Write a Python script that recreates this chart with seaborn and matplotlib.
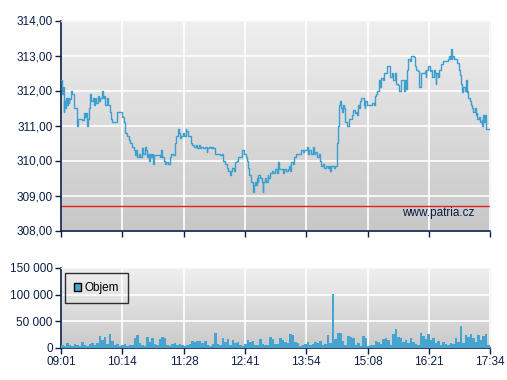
import numpy as np
import pandas as pd
import matplotlib
matplotlib.use("Agg")
import matplotlib.pyplot as plt
import seaborn as sns
from matplotlib.ticker import FuncFormatter, FixedLocator
from matplotlib.patches import Patch

# ---------------- data ----------------
tick_labels = ["09:01", "10:14", "11:28", "12:41", "13:54", "15:08", "16:21", "17:34"]

price_min = [0, 1, 2, 3, 4, 5, 6, 7, 8, 9, 10, 12, 13, 15, 17, 19, 20, 23, 25, 27, 29, 30, 31, 32, 34,
             35, 36, 38, 39, 41, 42, 44, 45, 47, 49, 50, 52, 53, 55, 56, 58, 60, 61, 65, 67, 71, 73, 75,
             77, 79, 81, 83, 85, 87, 88, 90, 91, 93, 95, 97, 98, 100, 101, 102, 103, 104, 105, 106, 108,
             109, 110, 111, 116, 118, 120, 121, 123, 124, 126, 128, 130, 132, 134, 136, 138, 140, 141,
             142, 144, 146, 147, 149, 150, 152, 154, 156, 157, 159, 161, 163, 165, 166, 168, 170, 172,
             174, 175, 177, 179, 180, 182, 184, 188, 190, 192, 194, 196, 198, 200, 202, 203, 205, 207,
             208, 210, 212, 214, 216, 217, 219, 221, 222, 224, 225, 227, 229, 230, 231, 232, 233, 234,
             235, 236, 238, 240, 241, 242, 244, 245, 247, 248, 250, 252, 254, 256, 258, 260, 261, 263,
             265, 267, 269, 271, 273, 274, 275, 277, 279, 281, 283, 285, 287, 289, 291, 293, 294, 295,
             297, 299, 301, 302, 304, 306, 308, 310, 311, 313, 315, 317, 319, 321, 322, 323, 325, 327,
             328, 330, 331, 332, 333, 334, 335, 336, 337, 338, 340, 342, 344, 346, 348, 349, 351, 353,
             354, 355, 356, 357, 359, 360, 362, 363, 364, 366, 368, 370, 372, 374, 376, 377, 378, 380,
             381, 383, 385, 386, 388, 390, 392, 393, 394, 396, 397, 399, 400, 401, 403, 404, 406, 408,
             410, 411, 413, 414, 415, 417, 418, 420, 422, 423, 425, 427, 428, 430, 431, 433, 435, 436,
             437, 439, 441, 443, 444, 446, 447, 448, 449, 451, 452, 453, 455, 457, 459, 461, 463, 464,
             465, 466, 467, 468, 470, 472, 474, 476, 477, 478, 479, 480, 481, 483, 484, 485, 486, 487,
             489, 490, 492, 493, 495, 496, 497, 498, 500, 501, 503, 504, 505, 506, 507, 508, 513]

price = [312.30, 311.90, 312.10, 311.40, 311.70, 311.50, 311.80, 311.60, 311.80, 311.65, 311.75, 312.00,
         311.90, 311.50, 311.50, 311.00, 311.20, 311.20, 311.15, 311.35, 311.25, 311.35, 311.00, 311.20,
         311.50, 311.90, 311.70, 311.80, 311.60, 311.80, 311.65, 311.85, 311.70, 311.80, 312.00, 311.80,
         311.85, 311.60, 311.80, 311.60, 311.40, 311.20, 311.10, 311.10, 311.40, 311.40, 311.25, 311.10,
         310.80, 310.70, 310.60, 310.50, 310.40, 310.30, 310.15, 310.30, 310.10, 310.20, 310.10, 310.35,
         310.20, 310.30, 310.40, 310.30, 310.10, 310.20, 310.00, 310.20, 310.10, 310.20, 309.90, 310.15,
         310.15, 310.10, 310.30, 310.10, 310.00, 309.90, 309.95, 309.90, 310.10, 310.20, 310.15, 310.50,
         310.70, 310.90, 310.80, 310.65, 310.70, 310.80, 310.70, 310.90, 310.85, 310.70, 310.70, 310.50,
         310.45, 310.40, 310.45, 310.35, 310.45, 310.35, 310.40, 310.35, 310.40, 310.25, 310.35, 310.40,
         310.35, 310.40, 310.35, 310.20, 310.20, 310.15, 310.20, 310.00, 309.90, 309.80, 309.70, 309.60,
         309.70, 309.80, 309.70, 309.95, 310.00, 310.10, 310.10, 310.20, 310.30, 310.20, 310.10, 310.00,
         309.80, 309.60, 309.40, 309.30, 309.10, 309.30, 309.40, 309.30, 309.50, 309.40, 309.60, 309.50,
         309.40, 309.10, 309.40, 309.50, 309.40, 309.60, 309.50, 309.65, 309.70, 309.65, 309.75, 309.65,
         309.95, 309.75, 309.75, 309.65, 309.75, 309.70, 309.75, 309.85, 309.70, 309.95, 309.90, 310.10,
         310.20, 310.20, 310.20, 310.30, 310.25, 310.30, 310.30, 310.40, 310.20, 310.30, 310.20, 310.40,
         310.20, 310.25, 310.10, 310.20, 310.00, 309.85, 309.90, 309.80, 309.85, 309.80, 309.85, 309.70,
         309.85, 309.85, 309.80, 309.85, 310.50, 311.00, 311.30, 311.60, 311.70, 311.50, 311.40, 311.60,
         311.50, 311.10, 311.00, 311.20, 311.20, 311.30, 311.45, 311.35, 311.40, 311.30, 311.60, 311.50,
         311.70, 311.80, 311.80, 311.60, 311.50, 311.70, 311.60, 311.60, 311.60, 311.65, 311.60, 311.85,
         311.90, 312.00, 312.30, 312.10, 312.35, 312.30, 312.50, 312.50, 312.70, 312.70, 312.50, 312.40,
         312.50, 312.30, 312.50, 312.40, 312.20, 312.15, 312.00, 312.30, 312.30, 312.00, 312.30, 312.05,
         312.60, 312.90, 312.85, 313.00, 313.00, 312.95, 312.70, 312.60, 312.55, 312.10, 312.40, 312.50,
         312.50, 312.55, 312.40, 312.60, 312.70, 312.55, 312.60, 312.40, 312.60, 312.50, 312.20, 312.50,
         312.40, 312.60, 312.60, 312.75, 312.85, 312.85, 312.85, 312.90, 313.00, 312.90, 313.20, 312.90,
         313.00, 312.90, 312.90, 312.80, 312.60, 312.45, 312.20, 312.00, 311.95, 312.10, 312.00, 312.30,
         311.95, 312.00, 311.80, 311.70, 311.60, 311.50, 311.40, 311.50, 311.30, 311.35, 311.20, 311.25,
         311.10, 311.15, 311.00, 311.30, 311.10, 311.30, 310.90, 310.90]

reference_level = 308.70

# volume per 3-minute interval (start minute after 09:01)
vol_min = list(range(0, 513, 3))
volume = [6000, 4000, 9000, 5000, 3000, 8000, 5000, 4000, 12000, 6000,
          4000, 7000, 9000, 6000, 10000, 22000, 15000, 20000, 8000, 27000,
          14000, 6000, 8000, 3000, 5000, 7000, 4000, 6000, 5000, 18000,
          24000, 9000, 6000, 4000, 21000, 12000, 19000, 7000, 5000, 16000,
          21000, 18000, 6000, 4000, 7000, 9000, 5000, 8000, 6000, 4000,
          5000, 7000, 14000, 11000, 14000, 13000, 9000, 13000, 6000, 4000,
          7000, 28000, 8000, 5000, 18000, 12000, 17000, 6000, 15000, 9000,
          12000, 5000, 4000, 7000, 15000, 11000, 14000, 6000, 5000, 16000,
          8000, 6000, 5000, 20000, 17000, 7000, 8000, 19000, 15000, 11000,
          9000, 26000, 24000, 11000, 10000, 4000, 6000, 8000, 12000, 5000,
          7000, 12000, 9000, 14000, 6000, 8000, 24000, 10000, 101000, 17000,
          29000, 28000, 14000, 5000, 22000, 20000, 18000, 5000, 9000, 4000,
          22000, 19000, 3000, 6000, 5000, 14000, 12000, 7000, 16000, 19000,
          15000, 6000, 27000, 35000, 20000, 18000, 11000, 15000, 10000, 18000,
          12000, 8000, 6000, 28000, 22000, 16000, 27000, 15000, 19000, 9000,
          14000, 6000, 11000, 8000, 5000, 9000, 7000, 19000, 12000, 42000,
          10000, 24000, 20000, 27000, 18000, 11000, 25000, 15000, 22000, 27000,
          5000]

# ---------------- styling ----------------
sns.set_style("white")
plt.rcParams["font.family"] = ["Liberation Sans", "DejaVu Sans"]
NAVY = "#0b1e46"
LINE = "#3d9fd0"
BAR = "#45a5d0"

def tick_minutes(labels):
    h0, m0 = map(int, labels[0].split(":"))
    out = []
    for lab in labels:
        h, m = map(int, lab.split(":"))
        out.append((h * 60 + m) - (h0 * 60 + m0))
    return out

xt = tick_minutes(tick_labels)
xmax = xt[-1]

fig = plt.figure(figsize=(5.07, 3.80), dpi=100)
W, H = 507, 380
ax = fig.add_axes([61 / W, 1 - 230.5 / H, 429 / W, 210 / H])
axv = fig.add_axes([61 / W, 1 - 348 / H, 429 / W, 80 / H])

def gradient(a, top, bottom):
    g = np.linspace(0, 1, 256).reshape(-1, 1)
    c0 = np.array(matplotlib.colors.to_rgb(top))
    c1 = np.array(matplotlib.colors.to_rgb(bottom))
    img = c0[None, None, :] * (1 - g[:, :, None]) + c1[None, None, :] * g[:, :, None]
    a.imshow(img, extent=[0, 1, 0, 1], transform=a.transAxes, aspect="auto", zorder=0)

gradient(ax, "#efefef", "#c7c7c7")
gradient(axv, "#efefef", "#cacaca")

df_p = pd.DataFrame({"t": price_min, "price": price})
sns.lineplot(data=df_p, x="t", y="price", ax=ax, color=LINE, lw=1.0,
             drawstyle="steps-post", zorder=3)
ax.axhline(reference_level, color="#e2231a", lw=1.0, zorder=2)
ax.text(451, 308.50, "www.patria.cz", color=NAVY, fontsize=8.5,
        ha="center", va="center", zorder=4)

df_v = pd.DataFrame({"t": vol_min, "volume": volume})
sns.histplot(data=df_v, x="t", weights="volume", binwidth=3, binrange=(0, xmax),
             ax=axv, color=BAR, alpha=1.0, edgecolor="none", linewidth=0, zorder=3)

for a in (ax, axv):
    a.set_xlim(0, xmax)
    a.xaxis.set_major_locator(FixedLocator(xt))
    a.grid(True, color="white", lw=1.2)
    a.set_axisbelow(True)
    a.set_xlabel("")
    a.set_ylabel("")
    for s in ("left", "bottom"):
        a.spines[s].set_color(NAVY)
        a.spines[s].set_linewidth(1.2)
    for s in ("top", "right"):
        a.spines[s].set_color("#f6f6f6")
        a.spines[s].set_linewidth(1.0)
    a.tick_params(axis="both", direction="out", length=4, width=1.0, color=NAVY,
                  labelcolor=NAVY, labelsize=8.5, pad=2)
    a.tick_params(axis="x", bottom=True)
    a.tick_params(axis="y", left=True)

ax.set_ylim(308, 314)
ax.set_yticks(np.arange(308, 314.5, 1))
ax.yaxis.set_major_formatter(FuncFormatter(lambda v, p: f"{v:.2f}".replace(".", ",")))
ax.set_xticklabels([])

axv.set_ylim(0, 150000)
axv.set_yticks([0, 50000, 100000, 150000])
axv.yaxis.set_major_formatter(FuncFormatter(lambda v, p: f"{int(v):,}".replace(",", " ")))
axv.set_xticklabels(tick_labels)

handle = Patch(facecolor=BAR, edgecolor="black", linewidth=1.0)
leg = axv.legend([handle], ["Objem"], loc="upper left", bbox_to_anchor=(0.0093, 0.934),
                 borderaxespad=0, fontsize=8.5, frameon=True, fancybox=False,
                 handlelength=0.6, handleheight=0.6, handletextpad=0.3,
                 borderpad=0.75, labelcolor="black")
leg.get_frame().set_edgecolor("black")
leg.get_frame().set_facecolor("none")
leg.get_frame().set_linewidth(1.0)

fig.savefig("out.png", dpi=100)
